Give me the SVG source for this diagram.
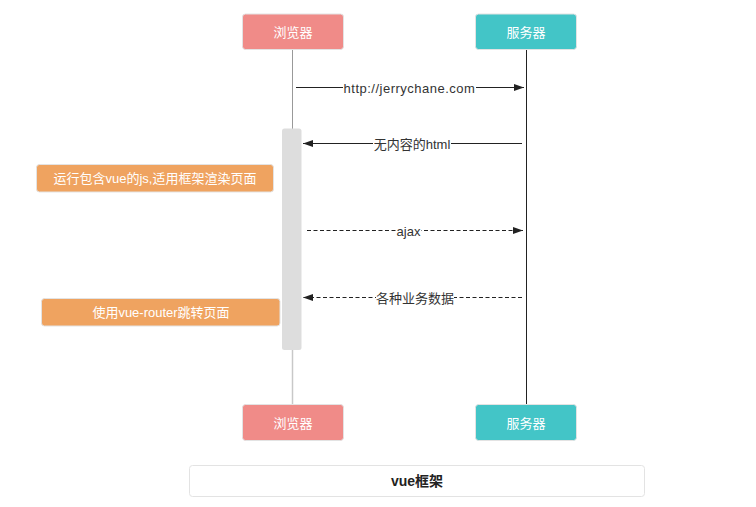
<svg xmlns="http://www.w3.org/2000/svg" width="756" height="507" viewBox="0 0 756 507">
<defs>
<style>
text{font-family:"Liberation Sans","Noto Sans CJK SC",sans-serif;font-size:13px;text-anchor:middle;dominant-baseline:central}
.w{fill:#fff}
.lb{fill:#333}
.browser{fill:#f08b88;stroke:#e3e3e3;stroke-width:1}
.server{fill:#43c5c7;stroke:#e3e3e3;stroke-width:1}
.note{fill:#efa360;stroke:#e3e3e3;stroke-width:1}
.msg{stroke:#222;stroke-width:1;fill:none}
.dash{stroke-dasharray:4 2.5}
.bg{fill:#fff}
</style>
<marker id="ah" viewBox="0 0 10 10" refX="10" refY="5" markerWidth="10" markerHeight="10" markerUnits="userSpaceOnUse" orient="auto">
<path d="M0,1.5 L10,5 L0,8.5 Z" fill="#222"/>
</marker>
</defs>
<rect width="756" height="507" fill="#fff"/>
<g id="lifelines">
<line x1="292.5" y1="49" x2="292.5" y2="129" stroke="#999" stroke-width="1"/>
<line x1="292.5" y1="350" x2="292.5" y2="405" stroke="#c8c8c8" stroke-width="1.5"/>
<line x1="526.5" y1="49" x2="526.5" y2="405" stroke="#222" stroke-width="1"/>
</g>
<g id="activation">
<rect x="282" y="128.5" width="19.5" height="221.5" rx="2.5" fill="#dddddd"/>
</g>
<g id="connectors">
<line class="msg" x1="296" y1="87.5" x2="524" y2="87.5" marker-end="url(#ah)"/>
<rect class="bg" x="343" y="80" width="133" height="16"/>
<text class="lb" x="409.5" y="88" style="letter-spacing:0.5px">http://jerrychane.com</text>
<line class="msg" x1="522" y1="143.5" x2="303" y2="143.5" marker-end="url(#ah)"/>
<rect class="bg" x="373" y="136" width="78" height="16"/>
<text class="lb" x="412" y="144">无内容的html</text>
<line class="msg dash" x1="307" y1="230.5" x2="523" y2="230.5" marker-end="url(#ah)"/>
<rect class="bg" x="396" y="223" width="25" height="16"/>
<text class="lb" x="408.5" y="231">ajax</text>
<line class="msg dash" x1="522" y1="297.5" x2="303" y2="297.5" marker-end="url(#ah)"/>
<rect class="bg" x="376" y="290" width="78" height="16"/>
<text class="lb" x="415" y="298">各种业务数据</text>
</g>
<g id="browser-top">
<rect class="browser" x="242.5" y="14" width="101" height="35.5" rx="3"/>
<text class="w" x="293" y="32">浏览器</text>
</g>
<g id="server-top">
<rect class="server" x="475.5" y="14" width="101" height="35.5" rx="3"/>
<text class="w" x="526" y="32">服务器</text>
</g>
<g id="note1">
<rect class="note" x="36.5" y="164.5" width="237" height="27.5" rx="3"/>
<text class="w" x="155" y="178.5">运行包含vue的js,适用框架渲染页面</text>
</g>
<g id="note2">
<rect class="note" x="41.5" y="298.5" width="238.5" height="27.5" rx="3"/>
<text class="w" x="161" y="312.5">使用vue-router跳转页面</text>
</g>
<g id="browser-bottom">
<rect class="browser" x="242.5" y="404.5" width="101" height="36" rx="3"/>
<text class="w" x="293" y="423">浏览器</text>
</g>
<g id="server-bottom">
<rect class="server" x="475.5" y="404.5" width="101" height="36" rx="3"/>
<text class="w" x="526" y="423">服务器</text>
</g>
<g id="title">
<rect x="189.5" y="465.5" width="455" height="31" rx="3" fill="#fff" stroke="#e3e3e3"/>
<text x="417" y="480.5" fill="#222" style="font-size:14px;font-weight:600">vue框架</text>
</g>
</svg>
